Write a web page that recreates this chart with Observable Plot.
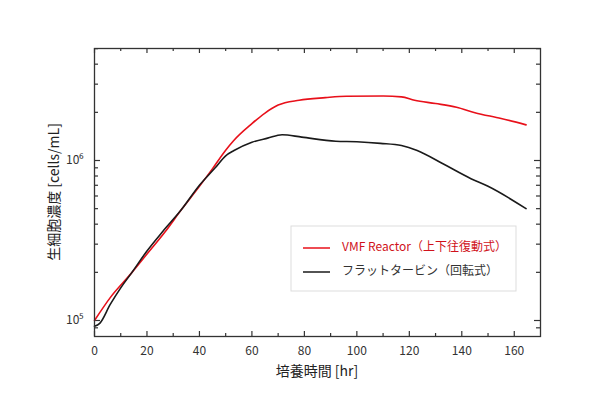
<!DOCTYPE html>
<html><head><meta charset="utf-8">
<script src="https://cdn.jsdelivr.net/npm/d3@7"></script>
<script src="https://cdn.jsdelivr.net/npm/@observablehq/plot@0.6"></script>
<style>body{margin:0;background:#fff} svg{display:block}</style>
</head><body><div id="chart"></div>
<script>
// Data
const vmfHours  = [0, 6, 14, 20, 27, 33, 40, 45, 50, 53, 60, 65, 70, 78, 88, 96, 110, 117, 122, 130, 138, 145, 155, 164.5];
const vmfValues = [1.0e5, 1.39e5, 1.97e5, 2.6e5, 3.6e5, 4.9e5, 6.9e5, 8.9e5, 1.16e6, 1.33e6, 1.7e6, 1.98e6, 2.22e6, 2.38e6, 2.47e6, 2.52e6, 2.53e6, 2.5e6, 2.38e6, 2.27e6, 2.15e6, 1.99e6, 1.83e6, 1.67e6];
const flatHours  = [0, 2, 6, 10, 14, 20, 26, 33, 40, 46, 50, 53, 60, 66, 71.5, 79, 92, 100, 109, 117, 123, 133, 143.5, 150, 164.5];
const flatValues = [9.2e4, 9.6e4, 1.26e5, 1.6e5, 1.97e5, 2.72e5, 3.6e5, 4.9e5, 7.0e5, 9.0e5, 1.07e6, 1.15e6, 1.3e6, 1.38e6, 1.45e6, 1.4e6, 1.32e6, 1.31e6, 1.28e6, 1.24e6, 1.155e6, 9.5e5, 7.7e5, 6.9e5, 5.0e5];
const seriesNames = ["VMF Reactor（上下往復動式）", "フラットタービン（回転式）"];
const xTickLabels = [0, 20, 40, 60, 80, 100, 120, 140, 160];
const xMinorTicks = [10, 30, 50, 70, 90, 110, 130, 150];
const yMajorTicks = [1e5, 1e6];
const yMinorTicks = [9e4, 2e5, 3e5, 4e5, 5e5, 6e5, 7e5, 8e5, 9e5, 2e6, 3e6, 4e6, 5e6];
const yTickLabels = ["10⁵", "10⁶"];
const xTitle = "培養時間 [hr]";
const yTitle = "生細胞濃度 [cells/mL]";

const vmf = vmfHours.map((h, i) => ({h, v: vmfValues[i]}));
const flat = flatHours.map((h, i) => ({h, v: flatValues[i]}));

const W = 601, H = 407, mL = 94, mR = 61, mT = 48, mB = 71;
const pw = W - mL - mR, ph = H - mT - mB;
const ink = "#333";
const redLine = "#e8101a", blackLine = "#1a1a1a";
const font = "'Noto Sans CJK JP', 'Noto Sans', sans-serif";

const chart = Plot.plot({
  width: W, height: H,
  marginLeft: mL, marginRight: mR, marginTop: mT, marginBottom: mB,
  style: {fontFamily: font, background: "#fff", color: ink},
  x: {domain: [0, 170]},
  y: {type: "log", domain: [10 ** 4.9, 10 ** 6.7]},
  marks: [
    Plot.ruleX(xTickLabels, {x: d => d, insetTop: ph - 5, stroke: ink, strokeWidth: 1.2}),
    Plot.ruleX(xTickLabels, {x: d => d, insetBottom: ph - 5, stroke: ink, strokeWidth: 1.2}),
    Plot.ruleX(xMinorTicks, {x: d => d, insetTop: ph - 3, stroke: ink, strokeWidth: 1.2}),
    Plot.ruleX(xMinorTicks, {x: d => d, insetBottom: ph - 3, stroke: ink, strokeWidth: 1.2}),
    Plot.ruleY(yMajorTicks, {y: d => d, insetRight: pw - 6, stroke: ink, strokeWidth: 1.2}),
    Plot.ruleY(yMajorTicks, {y: d => d, insetLeft: pw - 6, stroke: ink, strokeWidth: 1.2}),
    Plot.ruleY(yMinorTicks, {y: d => d, insetRight: pw - 4, stroke: ink, strokeWidth: 1.2}),
    Plot.ruleY(yMinorTicks, {y: d => d, insetLeft: pw - 4, stroke: ink, strokeWidth: 1.2}),
    Plot.line(vmf, {x: "h", y: "v", stroke: redLine, strokeWidth: 1.6, curve: "monotone-x"}),
    Plot.line(flat, {x: "h", y: "v", stroke: blackLine, strokeWidth: 1.6, curve: "monotone-x"}),
    Plot.frame({stroke: ink, strokeWidth: 1.3}),
    Plot.axisX({ticks: xTickLabels, tickSize: 0, tickPadding: 10, fontSize: 12, label: null, fill: ink}),
    Plot.axisY({ticks: yMajorTicks, tickSize: 0, tickPadding: 11, fontSize: 12, label: null, fill: ink,
      tickFormat: d => yTickLabels[yMajorTicks.indexOf(d)]})
  ]
});

const svg = d3.select(chart);
svg.append("text").attr("x", mL + pw / 2).attr("y", 372)
  .attr("text-anchor", "middle").attr("dominant-baseline", "middle")
  .attr("font-size", 14).attr("fill", "#222").attr("font-family", font).text(xTitle);
svg.append("text").attr("transform", `translate(55,${mT + ph / 2}) rotate(-90)`)
  .attr("text-anchor", "middle").attr("dominant-baseline", "middle")
  .attr("font-size", 14).attr("fill", "#222").attr("font-family", font).text(yTitle);

const lg = svg.append("g");
lg.append("rect").attr("x", 291).attr("y", 226).attr("width", 225).attr("height", 65)
  .attr("fill", "#fff").attr("stroke", "#ddd").attr("stroke-width", 1);
const lgColors = [redLine, blackLine];
const lgText = ["#d0121b", "#333"];
seriesNames.forEach((name, i) => {
  const y = 248 + i * 24;
  lg.append("line").attr("x1", 303).attr("x2", 330).attr("y1", y).attr("y2", y)
    .attr("stroke", lgColors[i]).attr("stroke-width", 1.5);
  lg.append("text").attr("x", 342).attr("y", y).attr("dominant-baseline", "middle")
    .attr("text-anchor", "start")
    .attr("font-size", 12).attr("fill", lgText[i]).attr("font-family", font).text(name);
});

document.getElementById("chart").appendChild(chart);
</script>
</body></html>
